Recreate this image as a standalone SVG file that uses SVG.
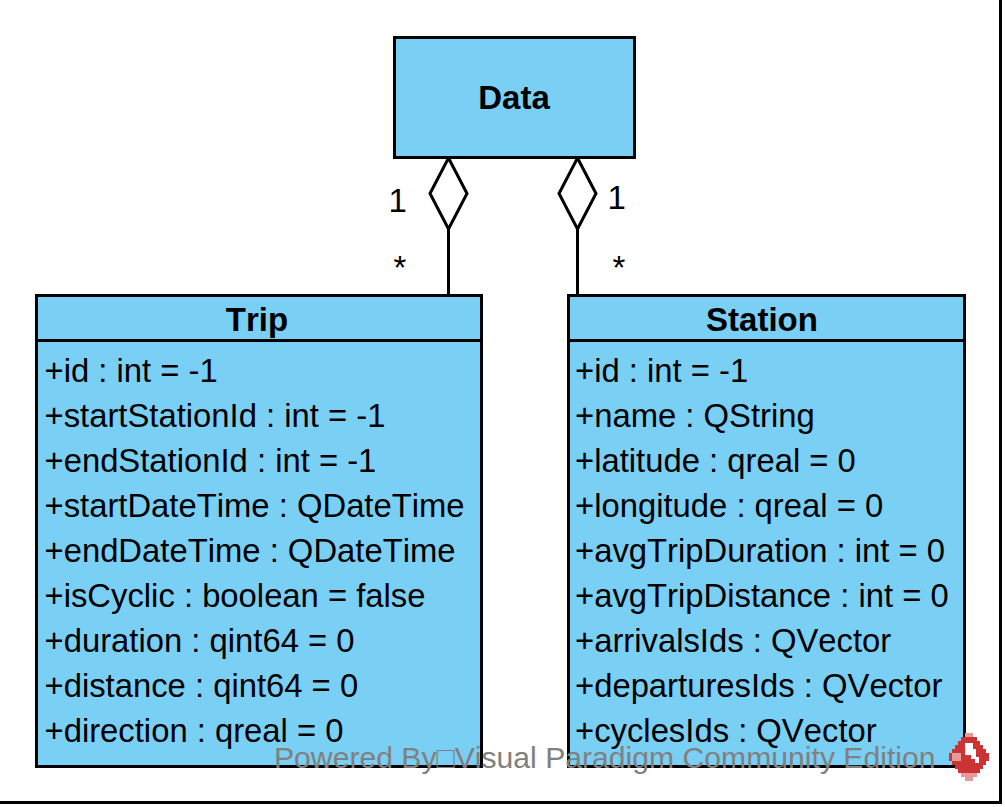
<svg xmlns="http://www.w3.org/2000/svg" width="1005" height="807" viewBox="0 0 1005 807">
<style>
text{font-family:"Liberation Sans",Arial,sans-serif;fill:#000;font-kerning:none}
.box{fill:#7acff5;stroke:#000;stroke-width:3}
.line{fill:none;stroke:#000;stroke-width:3}
.t{font-size:33px;font-weight:bold;text-anchor:middle}
.a{font-size:32.800px}
.m{font-size:33px}
.r{fill:#cd3333}
.p{fill:#e59a9a}
.w{fill:#fff}
</style>
<rect width="1005" height="807" fill="#fff"/>
<path class="line" d="M0 802.500H1000.500V0"/>
<g id="connectors">
<path class="line" d="M448.500 295V229M577.500 295V229"/>
<path class="line" d="M448.500 158L467 193.500L448.500 229L430 193.500Z"/>
<path class="line" d="M577.500 158L596 193.500L577.500 229L559 193.500Z"/>
</g>
<g id="data"><rect class="box" x="394.500" y="37.500" width="240" height="120"/><text class="t" x="514" y="109">Data</text></g>
<g id="trip"><rect class="box" x="36.500" y="295.500" width="445" height="471"/><path class="line" d="M36.500 340.500H481.500"/><text class="t" x="257" y="331">Trip</text>
<text class="a" x="44.500" y="382">+id : int = -1</text>
<text class="a" x="44.500" y="427">+startStationId : int = -1</text>
<text class="a" x="44.500" y="472">+endStationId : int = -1</text>
<text class="a" x="44.500" y="517">+startDateTime : QDateTime</text>
<text class="a" x="44.500" y="562">+endDateTime : QDateTime</text>
<text class="a" x="44.500" y="607">+isCyclic : boolean = false</text>
<text class="a" x="44.500" y="652">+duration : qint64 = 0</text>
<text class="a" x="44.500" y="697">+distance : qint64 = 0</text>
<text class="a" x="44.500" y="742">+direction : qreal = 0</text></g>
<g id="station"><rect class="box" x="568.500" y="295.500" width="396" height="471"/><path class="line" d="M568.500 340.500H964.500"/><text class="t" x="762" y="331">Station</text>
<text class="a" x="575" y="382">+id : int = -1</text>
<text class="a" x="575" y="427">+name : QString</text>
<text class="a" x="575" y="472">+latitude : qreal = 0</text>
<text class="a" x="575" y="517">+longitude : qreal = 0</text>
<text class="a" x="575" y="562">+avgTripDuration : int = 0</text>
<text class="a" x="575" y="607">+avgTripDistance : int = 0</text>
<text class="a" x="575" y="652">+arrivalsIds : QVector</text>
<text class="a" x="575" y="697">+departuresIds : QVector</text>
<text class="a" x="575" y="742">+cyclesIds : QVector</text></g>
<text class="m" x="388.500" y="212">1</text><text class="m" x="607.500" y="209">1</text>
<text class="m" x="393.500" y="279">*</text><text class="m" x="612.500" y="279">*</text>
<text x="274" y="768" style="font-size:30.150px;fill:#808080">Powered By□Visual Paradigm Community Edition</text>
<g shape-rendering="crispEdges">
<path class="r" d="M965 733H973V737H977V741H980V745H983V749H986V753H989V761H986V765H983V769H980V773H977V777H973V781H965V777H961V773H958V769H955V765H952V761H949V753H952V749H955V745H958V741H961V737H965Z"/>
<path class="p" d="M965 733H973V737H965ZM961 773H977V777H973V781H965V777H961ZM952 753H961V761H952Z"/>
<path class="w" d="M965 743H973V749H976V757H979V763H975V759H971V755H965Z"/>
</g>
</svg>
